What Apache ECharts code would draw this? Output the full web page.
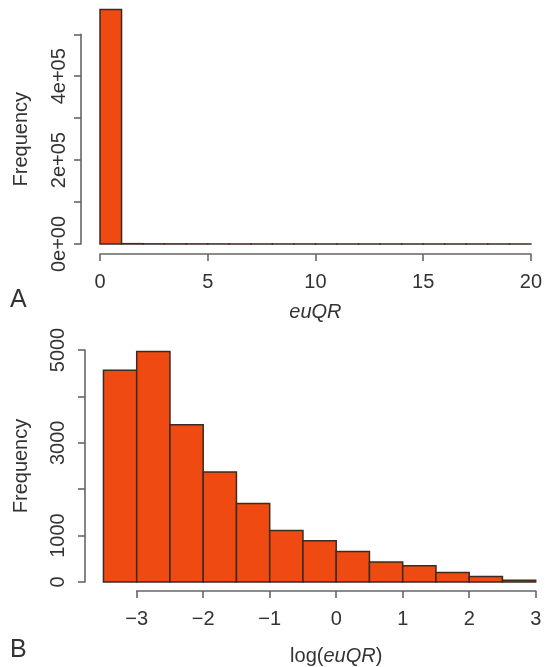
<!DOCTYPE html>
<html>
<head>
<meta charset="utf-8">
<script src="https://cdn.jsdelivr.net/npm/echarts@6/dist/echarts.min.js"></script>
<style>
  html, body { margin: 0; padding: 0; background: #fff; }
  #chart { width: 545px; height: 667px; }
</style>
</head>
<body>
<div id="chart"></div>
<script>
// panel A: histogram of euQR, bins of width 1
const aBreaks = [0, 1, 2, 3, 4, 5, 6, 7, 8, 9, 10, 11, 12, 13, 14, 15, 16, 17, 18, 19, 20];
const aCounts = [559000, 820, 340, 260, 180, 130, 100, 80, 60, 50, 40, 30, 25, 20, 15, 12, 10, 8, 6, 5];
const aYLabels = { 0: '0e+00', 200000: '2e+05', 400000: '4e+05' };

// panel B: histogram of log(euQR), bins of width 0.5
const bBreaks = [-3.5, -3, -2.5, -2, -1.5, -1, -0.5, 0, 0.5, 1, 1.5, 2, 2.5, 3];
const bCounts = [4565, 4965, 3390, 2370, 1690, 1110, 890, 655, 430, 350, 205, 120, 40];
const bYLabels = { 0: '0', 1000: '1000', 3000: '3000', 5000: '5000' };

const font = 'Liberation Sans, Arial, Helvetica, sans-serif';
const barFill = '#ee4a12';
const barEdge = '#3d2a20';
const axisColor = '#666';
const textColor = '#333';

const toBins = (breaks, counts) => counts.map((c, i) => [breaks[i], breaks[i + 1], c]);

function renderBin(params, api) {
  const p0 = api.coord([api.value(0), 0]);
  const p1 = api.coord([api.value(1), api.value(2)]);
  return {
    type: 'rect',
    shape: { x: p0[0], y: p1[1], width: p1[0] - p0[0], height: p0[1] - p1[1] },
    style: { fill: barFill, stroke: barEdge, lineWidth: 1.5 }
  };
}

// R-style axes: detached from the plot, no crossing at zero
const axisLine = { show: true, onZero: false, lineStyle: { color: axisColor, width: 1.6 } };
const axisTick = { show: true, length: 7, lineStyle: { color: axisColor, width: 1.6 } };
const splitLine = { show: false };

const chart = echarts.init(document.getElementById('chart'), null, { renderer: 'canvas' });

const option = {
  animation: false,
  backgroundColor: '#fff',
  textStyle: { fontFamily: font },
  graphic: [
    { type: 'text', left: 10, top: 288, style: { text: 'A', font: '25px ' + font, fill: textColor } },
    { type: 'text', left: 10, top: 638, style: { text: 'B', font: '25px ' + font, fill: textColor } }
  ],
  grid: [
    { left: 100, right: 11.7, top: 34.3, height: 209.7 },
    { left: 136.7, right: 9.3, top: 350, height: 234.3 }
  ],
  xAxis: [
    {
      gridIndex: 0, type: 'value', min: 0, max: 20, interval: 5, offset: 10,
      axisLine, axisTick, splitLine,
      axisLabel: { color: textColor, fontSize: 20, margin: 18, fontFamily: font },
      name: 'euQR', nameLocation: 'middle', nameGap: 48,
      nameTextStyle: { color: textColor, fontSize: 20, fontStyle: 'italic', fontFamily: font }
    },
    {
      gridIndex: 1, type: 'value', min: -3, max: 3, interval: 1, offset: 9,
      axisLine, axisTick, splitLine,
      axisLabel: {
        color: textColor, fontSize: 20, margin: 18, fontFamily: font,
        formatter: (v) => String(v).replace('-', '\u2212')
      },
      name: '{n|log(}{i|euQR}{n|)}', nameLocation: 'middle', nameGap: 55,
      nameTextStyle: {
        color: textColor, fontSize: 20, fontFamily: font,
        rich: {
          n: { color: textColor, fontSize: 20, fontFamily: font },
          i: { color: textColor, fontSize: 20, fontStyle: 'italic', fontFamily: font }
        }
      }
    }
  ],
  yAxis: [
    {
      gridIndex: 0, type: 'value', min: 0, max: 500000, interval: 100000, offset: 19,
      axisLine, axisTick, splitLine,
      axisLabel: {
        color: textColor, fontSize: 20, rotate: 90, margin: 12, fontFamily: font,
        formatter: (v) => aYLabels[v] || ''
      },
      name: 'Frequency', nameLocation: 'middle', nameGap: 50,
      nameTextStyle: { color: textColor, fontSize: 20, fontFamily: font }
    },
    {
      gridIndex: 1, type: 'value', min: 0, max: 5000, interval: 1000, offset: 51.7,
      axisLine, axisTick, splitLine,
      axisLabel: {
        color: textColor, fontSize: 20, rotate: 90, margin: 17, fontFamily: font,
        formatter: (v) => bYLabels[v] || ''
      },
      name: 'Frequency', nameLocation: 'middle', nameGap: 54,
      nameTextStyle: { color: textColor, fontSize: 20, fontFamily: font }
    }
  ],
  series: [
    {
      type: 'custom', xAxisIndex: 0, yAxisIndex: 0, clip: false,
      renderItem: renderBin, encode: { x: [0, 1], y: 2 },
      data: toBins(aBreaks, aCounts)
    },
    {
      type: 'custom', xAxisIndex: 1, yAxisIndex: 1, clip: false,
      renderItem: renderBin, encode: { x: [0, 1], y: 2 },
      data: toBins(bBreaks, bCounts)
    }
  ]
};

chart.setOption(option);
</script>
</body>
</html>
